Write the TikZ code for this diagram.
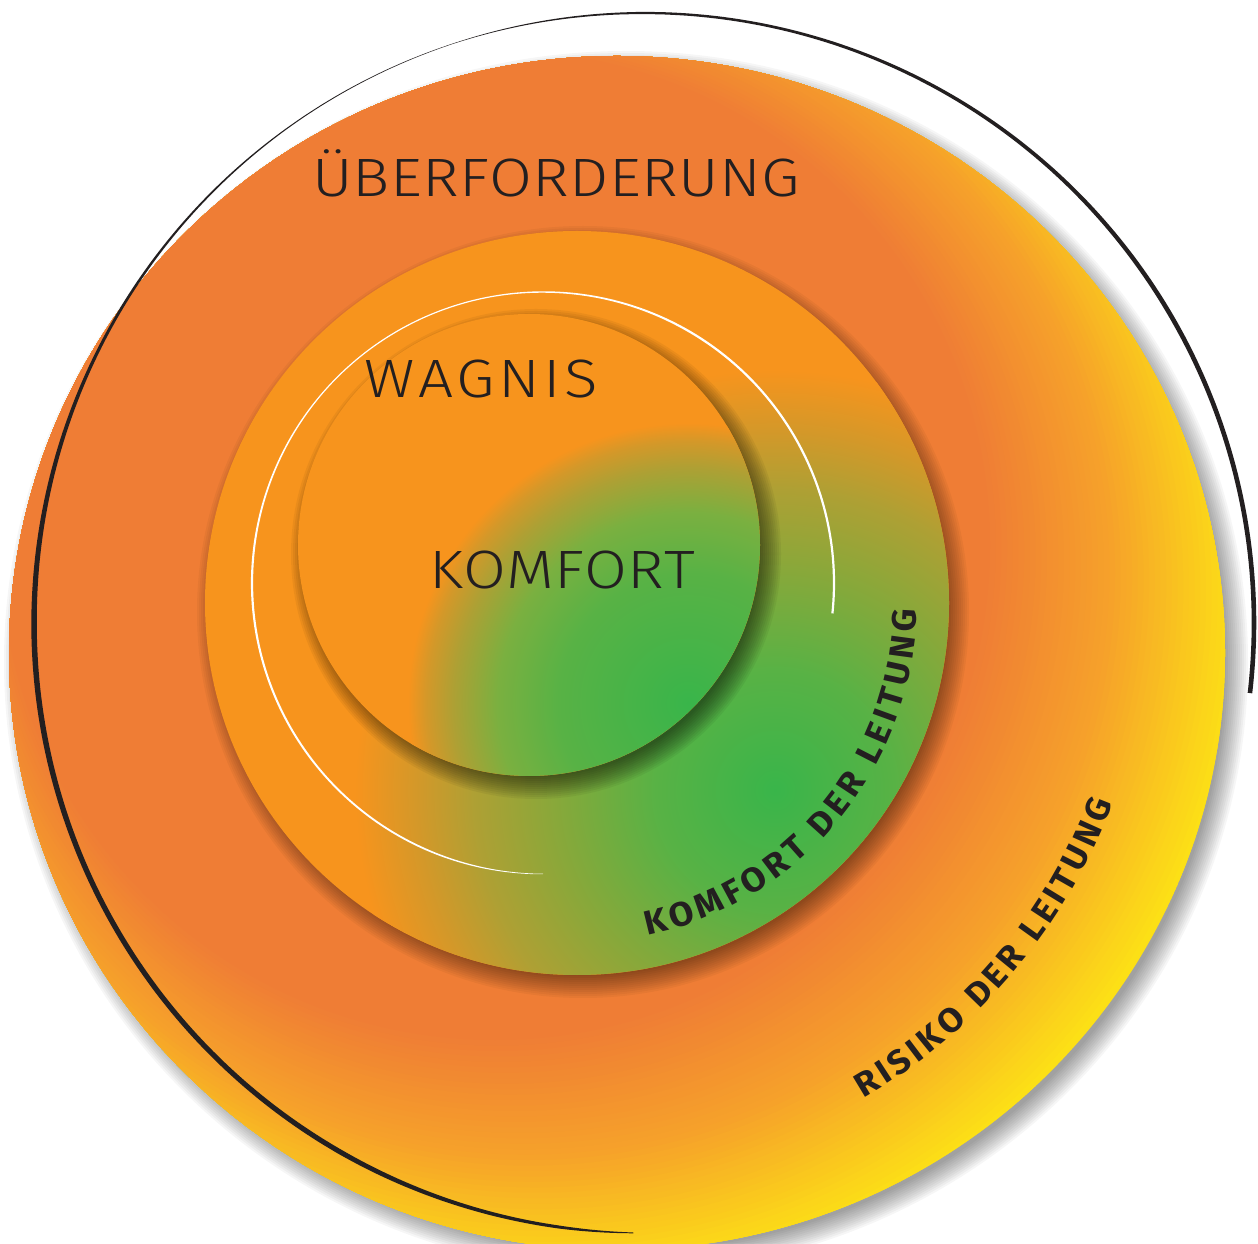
\documentclass[tikz,border=0pt]{standalone}
\usepackage{fontspec}
\usetikzlibrary{decorations.text}
\newfontfamily\lightfont{Fira Sans Light}[FakeStretch=1.15]
\newfontfamily\curvefont{Fira Sans}[FakeStretch=1.05]
\definecolor{txt}{HTML}{231F20}
\definecolor{cO}{HTML}{EF7D35}
\definecolor{cM}{HTML}{F6A22A}
\definecolor{cY}{HTML}{FCE016}
\definecolor{cOm}{HTML}{F7941D}
\definecolor{gC}{HTML}{39B54A}
\definecolor{g1}{HTML}{58B245}
\definecolor{g2}{HTML}{88A83A}
\definecolor{g3}{HTML}{AEA034}
\definecolor{g4}{HTML}{D49829}
\definecolor{h2}{HTML}{7AB040}
\pgfdeclareradialshading{midgreen}{\pgfpoint{0bp}{0bp}}{color(0bp)=(gC); color(7.1bp)=(g1); color(13.1bp)=(g2); color(17.9bp)=(g3); color(21.4bp)=(g4); color(25bp)=(cOm); color(50bp)=(cOm)}
\pgfdeclareradialshading{ingreen}{\pgfpoint{0bp}{0bp}}{color(0bp)=(gC); color(11.6bp)=(g1); color(17bp)=(h2); color(21bp)=(g3); color(23.4bp)=(g4); color(25bp)=(cOm); color(50bp)=(cOm)}
\newcommand\curvestyle{\curvefont\bfseries\fontsize{34}{34}\selectfont}
\begin{document}
\begin{tikzpicture}[x=1pt,y=1pt,
  declare function={
    bw(\a)=(\a<30)?4.6:((\a<90)?(4.6-(\a-30)/60*2.4):((\a<108)?(2.2-(\a-90)/18*1.8):((\a<125)?(0.4+(\a-108)/17*0.6):((\a<150)?(1.0+(\a-125)/25*1.8):((\a<180)?(2.8+(\a-150)/30*2.7):((\a<240)?(5.5-(\a-180)/60*0.5):((\a<262)?(5.0-(\a-240)/22*2.0):(3.0-(\a-262)/7*2.2))))))));
    ww(\a)=(\a<60)?2.2:((\a<100)?(2.2-(\a-60)/40*1.0):((\a<140)?1.2:((\a<180)?(1.2+(\a-140)/40*1.0):((\a<245)?(2.2-(\a-180)/65*0.4):(1.8-(\a-245)/25*1.3)))));
  },
  maintext/.style={anchor=base, inner sep=0pt, text=txt, font=\lightfont\fontsize{54}{54}\selectfont},
  curvelabel/.style={decorate, decoration={text along path, text align={fit to path}, text color=txt}}]
\useasboundingbox (0,0) rectangle (1258,1243);
\fill[white] (0,0) rectangle (1258,1243);
% outer shadow
\foreach \k in {0,...,11}{\fill[black,opacity=0.035] (626,581) ellipse [x radius={622-2*\k}, y radius={611-2*\k}];}
% outer disc with eccentric orange-to-yellow gradient
\begin{scope}
  \clip (617,590) ellipse [x radius=608, y radius=597];
  \fill[cY] (0,0) rectangle (1258,1243);
  \foreach \i in {0,...,44}{%
    \pgfmathsetmacro\t{1-\i/44}%
    \pgfmathsetmacro\ccx{495+65*\t}%
    \pgfmathsetmacro\ccy{1243-(545+55*\t)}%
    \pgfmathsetmacro\rr{495+185*\t}%
    \ifdim\t pt>0.5pt
      \pgfmathsetmacro\pp{(\t-0.5)*200}\colorlet{stepc}{cY!\pp!cM}%
    \else
      \pgfmathsetmacro\pp{\t*200}\colorlet{stepc}{cM!\pp!cO}%
    \fi
    \fill[stepc] (\ccx,\ccy) circle[radius=\rr];
  }
\end{scope}
% middle disc
\foreach \k in {0,...,11}{\fill[black,opacity=0.04] (583,631) circle[radius={386-2*\k}];}
\fill[cOm] (577,640) circle[radius=372];
\begin{scope}
  \clip (577,640) circle[radius=372];
  \shade[shading=midgreen] (775,453) circle[radius=420];
\end{scope}
% inner disc
\foreach \k in {0,...,11}{\fill[black,opacity=0.05] (536,689) circle[radius={245-2*\k}];}
\fill[cOm] (529,698) circle[radius=231];
\begin{scope}
  \clip (529,698) circle[radius=231];
  \shade[shading=ingreen] (688,540) circle[radius=280];
\end{scope}
% white arc
\fill[white] plot[domain=-6:270, samples=300, variable=\a] ({543+(291+ww(\a)/2)*cos(\a)},{660+(291+ww(\a)/2)*sin(\a)}) -- plot[domain=270:-6, samples=300, variable=\a] ({543+(291-ww(\a)/2)*cos(\a)},{660+(291-ww(\a)/2)*sin(\a)}) -- cycle;
% labels
\node[maintext] (ueber) at (556,1046) {\makebox[488pt][s]{Ü\hfill B\hfill E\hfill R\hfill F\hfill O\hfill R\hfill D\hfill E\hfill R\hfill U\hfill N\hfill G}};
\node[maintext] (wagnis) at (481,845) {\makebox[233pt][s]{W\hfill A\hfill G\hfill N\hfill I\hfill S}};
\node[maintext] (komfort) at (562,654) {\makebox[266pt][s]{K\hfill O\hfill M\hfill F\hfill O\hfill R\hfill T}};
\path[curvelabel, decoration={text={|\curvestyle|KOMFORT DER LEITUNG}}] (577,640) ++(-78.1:340) arc[start angle=-78.1, end angle=-1.2, radius=340];
\path[curvelabel, decoration={text={|\curvestyle|RISIKO DER LEITUNG}}] (577,640) ++(-60:572) arc[start angle=-60, end angle=-20.5, radius=572];
% black tapered arc
\fill[txt] plot[domain=-6.6:269, samples=400, variable=\a] ({644+(610+bw(\a)/2)*cos(\a)},{620+(610+bw(\a)/2)*sin(\a)}) -- plot[domain=269:-6.6, samples=400, variable=\a] ({644+(610-bw(\a)/2)*cos(\a)},{620+(610-bw(\a)/2)*sin(\a)}) -- cycle;
\end{tikzpicture}
\end{document}
